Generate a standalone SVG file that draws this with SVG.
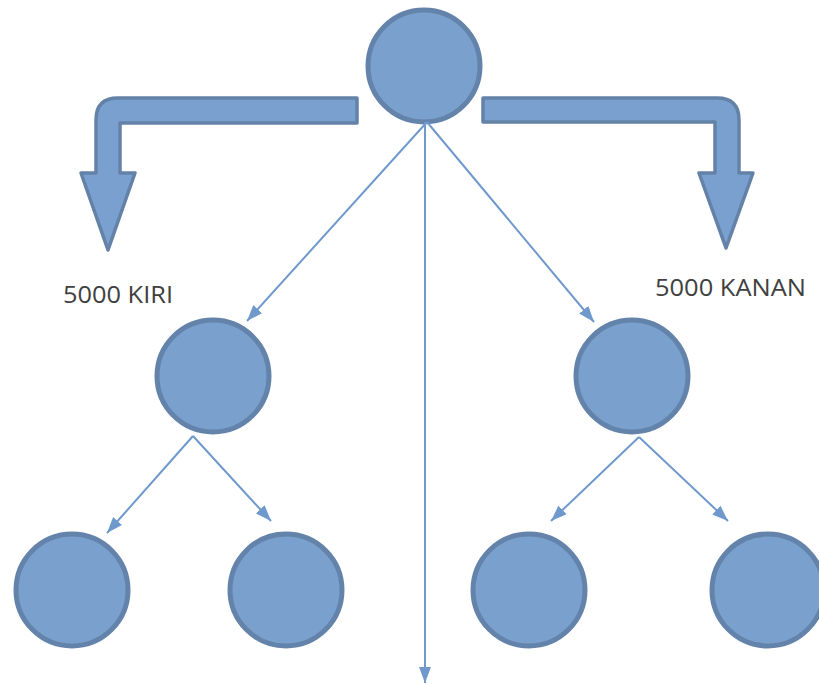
<svg xmlns="http://www.w3.org/2000/svg" width="819" height="684" viewBox="0 0 819 684">
<style>
.node{fill:#7aa0cd;stroke:#6483aa;stroke-width:5}
.block{fill:#79a0cf;stroke:#6482a8;stroke-width:3.5;stroke-linejoin:round}
.conn{stroke:#6f99cc;stroke-width:2;fill:none}
.lbl{font-family:"Open Sans","Liberation Sans",sans-serif;font-size:23px;fill:#404040}
</style>
<defs>
<marker id="ah" viewBox="0 0 16 12" refX="16" refY="6" markerWidth="16" markerHeight="12" markerUnits="userSpaceOnUse" orient="auto">
<path d="M0,0 L16,6 L0,12 Z" fill="#6f99cc"/>
</marker>
</defs>
<rect width="819" height="684" fill="#ffffff"/>
<g id="block-arrows">
<path class="block" d="M357,98 H118 Q96,98 96,120 V173 H81 L108,250 L135,173 H120 V123 H357 Z"/>
<path class="block" d="M483,98 H717 Q739,98 739,120 V173 H753 L726,248 L699,173 H715 V122 H483 Z"/>
</g>
<g id="root"><circle class="node" cx="424" cy="66" r="56"/></g>
<g id="mid-left"><circle class="node" cx="213" cy="376" r="56"/></g>
<g id="mid-right"><circle class="node" cx="632" cy="376" r="56"/></g>
<g id="leaf1"><circle class="node" cx="72" cy="590" r="56"/></g>
<g id="leaf2"><circle class="node" cx="286" cy="590" r="56"/></g>
<g id="leaf3"><circle class="node" cx="529" cy="590" r="56"/></g>
<g id="leaf4"><circle class="node" cx="768" cy="590" r="56"/></g>
<g id="connectors">
<line class="conn" x1="427" y1="122" x2="247" y2="321" marker-end="url(#ah)"/>
<line class="conn" x1="427" y1="122" x2="594" y2="322" marker-end="url(#ah)"/>
<line class="conn" x1="425" y1="122" x2="425" y2="683" marker-end="url(#ah)"/>
<line class="conn" x1="193" y1="436" x2="107" y2="533" marker-end="url(#ah)"/>
<line class="conn" x1="193" y1="436" x2="271" y2="521" marker-end="url(#ah)"/>
<line class="conn" x1="639" y1="437" x2="551" y2="521" marker-end="url(#ah)"/>
<line class="conn" x1="639" y1="437" x2="728" y2="521" marker-end="url(#ah)"/>
</g>
<g id="labels">
<text class="lbl" x="63" y="303" textLength="110" lengthAdjust="spacingAndGlyphs">5000 KIRI</text>
<text class="lbl" x="655" y="296" textLength="151" lengthAdjust="spacingAndGlyphs">5000 KANAN</text>
</g>
</svg>
